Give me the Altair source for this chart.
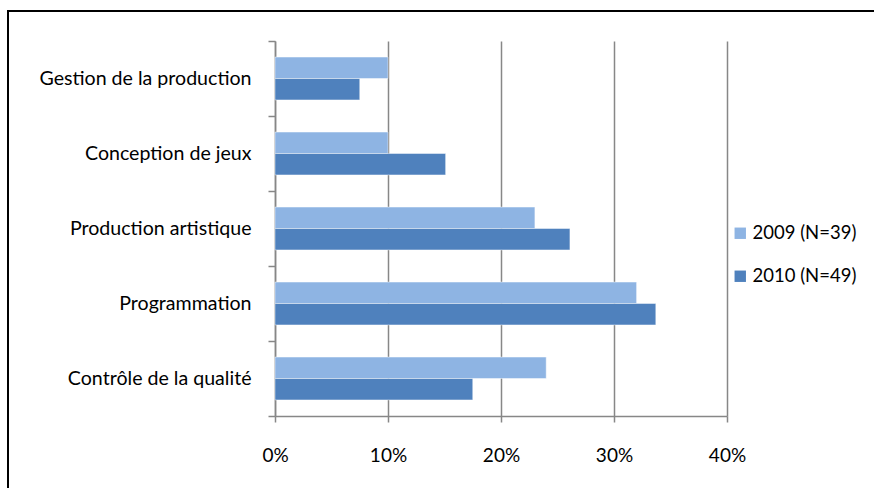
import altair as alt
import pandas as pd

# Share of respondents by job family, two survey years
categories = [
    "Gestion de la production",
    "Conception de jeux",
    "Production artistique",
    "Programmation",
    "Contrôle de la qualité",
]
series = ["2009 (N=39)", "2010 (N=49)"]
values_2009 = [0.100, 0.100, 0.230, 0.320, 0.240]
values_2010 = [0.075, 0.151, 0.261, 0.337, 0.175]
x_ticks = [0, 0.1, 0.2, 0.3, 0.4]
colors = ["#8EB4E3", "#4F81BD"]

rows = []
for cat, v09, v10 in zip(categories, values_2009, values_2010):
    rows.append({"poste": cat, "annee": series[0], "part": v09})
    rows.append({"poste": cat, "annee": series[1], "part": v10})
df = pd.DataFrame(rows)

FONT = "Lato"
GRID = "#878787"

bars = alt.Chart(df).mark_bar(
    stroke="#ffffff", strokeOpacity=0.45, strokeWidth=1
).encode(
    y=alt.Y(
        "poste:N",
        sort=categories,
        title=None,
        scale=alt.Scale(paddingInner=0, paddingOuter=0),
        axis=alt.Axis(
            tickBand="extent",
            tickSize=7,
            tickColor=GRID,
            tickWidth=1.5,
            domainColor=GRID,
            domainWidth=1.5,
            labelPadding=17,
            labelLimit=0,
            labelFont=FONT,
            labelFontSize=19.6,
            labelColor="#000000",
            grid=False,
        ),
    ),
    # two bars per category, centred in the band with gaps above and below
    yOffset=alt.YOffset(
        "annee:N", sort=series, scale=alt.Scale(paddingInner=0, paddingOuter=0.75)
    ),
    x=alt.X(
        "part:Q",
        title=None,
        scale=alt.Scale(domain=[0, 0.4], nice=False),
        axis=alt.Axis(
            values=x_ticks,
            format=".0%",
            tickSize=6,
            tickColor=GRID,
            tickWidth=1.5,
            domainColor=GRID,
            domainWidth=1.5,
            grid=True,
            gridColor=GRID,
            gridWidth=1.5,
            labelFlush=False,
            labelPadding=24,
            labelFont=FONT,
            labelFontSize=19,
            labelColor="#000000",
        ),
    ),
    color=alt.Color(
        "annee:N",
        sort=series,
        scale=alt.Scale(domain=series, range=colors),
        legend=alt.Legend(
            title=None,
            orient="none",
            legendX=456,
            legendY=183,
            symbolType="square",
            symbolSize=130,
            symbolStrokeWidth=0,
            labelFont=FONT,
            labelFontSize=18.5,
            labelColor="#000000",
            labelOffset=3,
            rowPadding=24,
            padding=0,
        ),
    ),
)

# Frame around the chart (left and top edges)
frame_left = alt.Chart(df).mark_rule(color="#000000", strokeWidth=2).encode(
    x=alt.value(-267), y=alt.value(-30), y2=alt.value(460)
)
frame_top = alt.Chart(df).mark_rule(color="#000000", strokeWidth=2).encode(
    x=alt.value(-268), x2=alt.value(610), y=alt.value(-30)
)

chart = alt.layer(bars, frame_left, frame_top).properties(
    width=452,
    height=375,
    padding={"left": 275, "top": 41, "right": 147, "bottom": 72},
    autosize=alt.AutoSizeParams(type="none"),
    background="#ffffff",
).configure_view(stroke=None)

chart.save("out.html", embed_options={"renderer": "svg", "actions": False})
